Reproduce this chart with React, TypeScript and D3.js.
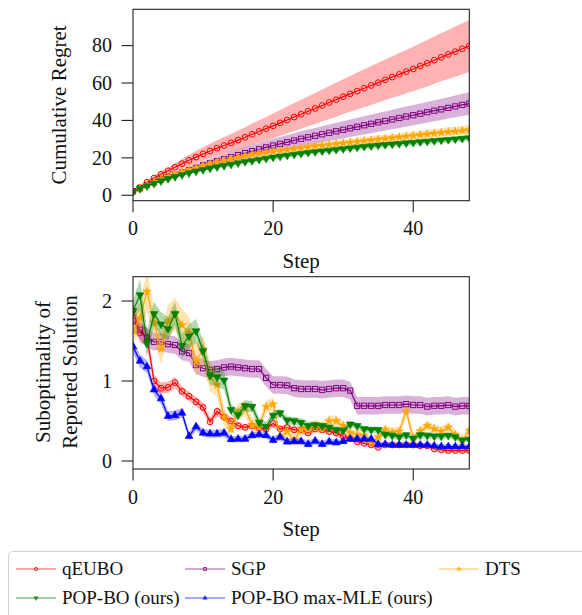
import React from "react";
import * as d3 from "d3";

// ---------- DATA ----------
const steps = d3.range(0, 49);

// Cumulative regret (top panel)
const regretQEUBO = [2.0,4.2,7.0,9.2,11.2,13.1,15.0,16.9,18.7,20.4,22.1,23.7,25.2,26.6,28.0,29.5,31.0,32.6,34.1,35.6,37.1,38.7,40.2,41.8,43.3,44.9,46.4,48.0,49.6,51.1,52.7,54.2,55.7,57.2,58.7,60.2,61.7,63.2,64.6,66.1,67.5,69.1,70.6,72.2,73.8,75.3,76.8,78.3,79.8];
const regretQEUBOStd = [0.3,0.6,0.9,1.2,1.5,1.8,2.1,2.5,2.9,3.3,3.6,3.9,4.2,4.5,4.8,5.1,5.4,5.7,6.0,6.3,6.6,6.9,7.2,7.5,7.8,8.0,8.3,8.6,8.8,9.1,9.3,9.6,9.9,10.1,10.4,10.6,10.9,11.1,11.4,11.6,11.9,12.1,12.4,12.6,12.9,13.1,13.4,13.6,13.9];
const regretSGP = [2.2,3.8,5.5,6.9,8.3,9.7,11.0,12.2,13.5,14.7,16.0,17.1,18.2,19.3,20.4,21.5,22.6,23.6,24.6,25.6,26.6,27.5,28.4,29.3,30.2,31.0,31.8,32.6,33.4,34.2,35.0,35.8,36.6,37.4,38.2,39.0,39.7,40.5,41.3,42.1,42.8,43.6,44.4,45.2,45.9,46.7,47.5,48.3,49.0];
const regretSGPStd = [0.2,0.4,0.6,0.8,1.0,1.2,1.4,1.6,1.8,2.0,2.2,2.4,2.6,2.8,3.0,3.1,3.2,3.3,3.4,3.5,3.6,3.7,3.8,3.9,4.0,4.1,4.2,4.3,4.4,4.5,4.6,4.7,4.8,4.9,5.0,5.0,5.1,5.2,5.3,5.3,5.4,5.5,5.5,5.6,5.7,5.7,5.8,5.9,6.0];
const regretDTS = [2.0,3.8,5.6,7.2,8.7,10.1,11.4,12.6,13.7,14.7,15.7,16.7,17.6,18.5,19.4,20.2,21.0,21.7,22.3,22.8,23.3,23.8,24.3,24.8,25.3,25.8,26.3,26.7,27.1,27.5,27.9,28.3,28.7,29.1,29.5,29.9,30.3,30.7,31.1,31.5,31.9,32.3,32.7,33.1,33.5,33.9,34.2,34.6,34.9];
const regretDTSStd = [0.2,0.3,0.4,0.5,0.6,0.7,0.8,0.9,1.0,1.0,1.1,1.1,1.2,1.2,1.3,1.3,1.4,1.4,1.5,1.5,1.5,1.6,1.6,1.6,1.7,1.7,1.7,1.8,1.8,1.8,1.9,1.9,1.9,2.0,2.0,2.0,2.1,2.1,2.1,2.2,2.2,2.2,2.3,2.3,2.3,2.4,2.4,2.4,2.5];
const regretPOP = [1.9,3.5,4.9,6.3,7.6,8.8,9.9,10.9,11.9,12.8,13.6,14.4,15.1,15.8,16.5,17.2,17.9,18.5,19.1,19.7,20.3,20.8,21.3,21.8,22.3,22.8,23.2,23.6,24.0,24.4,24.8,25.2,25.6,26.0,26.3,26.7,27.0,27.3,27.6,27.9,28.2,28.5,28.8,29.1,29.4,29.7,30.0,30.3,30.6];
const regretPOPStd = [0.2,0.3,0.4,0.5,0.5,0.6,0.6,0.7,0.7,0.8,0.8,0.8,0.9,0.9,0.9,1.0,1.0,1.0,1.0,1.1,1.1,1.1,1.1,1.2,1.2,1.2,1.2,1.2,1.3,1.3,1.3,1.3,1.3,1.4,1.4,1.4,1.4,1.4,1.4,1.5,1.5,1.5,1.5,1.5,1.5,1.6,1.6,1.6,1.6];

// Suboptimality of reported solution (bottom panel)
const subQEUBO = [1.88,1.60,1.55,1.00,0.91,0.92,0.98,0.87,0.81,0.74,0.67,0.49,0.62,0.55,0.50,0.44,0.42,0.44,0.41,0.40,0.47,0.40,0.42,0.39,0.39,0.35,0.40,0.39,0.37,0.35,0.31,0.28,0.24,0.22,0.20,0.17,0.20,0.20,0.20,0.20,0.20,0.19,0.19,0.15,0.14,0.13,0.13,0.13,0.13];
const subQEUBOStd = [0.10,0.12,0.12,0.08,0.07,0.07,0.07,0.06,0.06,0.06,0.06,0.05,0.06,0.05,0.05,0.05,0.04,0.04,0.04,0.04,0.05,0.04,0.04,0.04,0.04,0.04,0.04,0.04,0.04,0.04,0.04,0.03,0.03,0.03,0.03,0.03,0.03,0.03,0.03,0.03,0.03,0.03,0.03,0.03,0.03,0.03,0.03,0.03,0.03];
const subSGP = [1.75,1.64,1.54,1.49,1.49,1.46,1.45,1.37,1.35,1.20,1.16,1.14,1.15,1.17,1.18,1.17,1.16,1.15,1.15,1.04,0.95,0.95,0.945,0.91,0.90,0.90,0.90,0.89,0.90,0.91,0.91,0.88,0.69,0.69,0.69,0.69,0.70,0.70,0.70,0.71,0.70,0.70,0.68,0.69,0.69,0.70,0.68,0.69,0.69];
const subSGPStd = [0.12,0.12,0.12,0.11,0.11,0.11,0.11,0.11,0.11,0.11,0.11,0.11,0.11,0.11,0.11,0.11,0.11,0.11,0.11,0.11,0.11,0.11,0.11,0.11,0.11,0.11,0.11,0.11,0.11,0.11,0.11,0.11,0.11,0.11,0.11,0.11,0.11,0.11,0.11,0.11,0.11,0.11,0.11,0.11,0.11,0.11,0.11,0.11,0.11];
const subDTS = [1.625,1.79,2.12,1.73,1.40,1.75,1.84,1.70,1.60,1.25,1.40,1.05,0.95,0.55,0.40,0.62,0.66,0.45,0.43,0.68,0.71,0.30,0.37,0.26,0.39,0.41,0.44,0.42,0.50,0.50,0.44,0.35,0.33,0.32,0.23,0.30,0.39,0.36,0.37,0.62,0.29,0.375,0.44,0.40,0.37,0.42,0.33,0.26,0.38];
const subDTSStd = [0.15,0.20,0.25,0.20,0.20,0.20,0.20,0.20,0.20,0.20,0.18,0.18,0.15,0.12,0.10,0.10,0.10,0.10,0.08,0.08,0.08,0.07,0.07,0.07,0.07,0.07,0.07,0.07,0.07,0.07,0.07,0.06,0.06,0.06,0.06,0.06,0.06,0.06,0.06,0.08,0.06,0.06,0.06,0.06,0.06,0.06,0.06,0.06,0.06];
const subPOP = [1.88,2.075,1.47,1.84,1.71,1.65,1.84,1.44,1.56,1.625,1.375,1.07,1.05,1.01,0.64,0.575,0.69,0.68,0.48,0.43,0.57,0.60,0.51,0.50,0.48,0.44,0.45,0.44,0.42,0.39,0.38,0.46,0.44,0.40,0.39,0.39,0.33,0.32,0.30,0.325,0.28,0.325,0.32,0.31,0.31,0.32,0.30,0.26,0.27];
const subPOPStd = [0.12,0.20,0.17,0.15,0.15,0.15,0.15,0.15,0.15,0.15,0.12,0.12,0.12,0.12,0.07,0.07,0.07,0.07,0.06,0.06,0.06,0.05,0.05,0.05,0.05,0.05,0.04,0.04,0.04,0.04,0.04,0.04,0.04,0.04,0.04,0.04,0.04,0.04,0.04,0.04,0.04,0.04,0.04,0.04,0.04,0.03,0.03,0.03,0.03];
const subMLE = [1.43,1.25,1.18,0.89,0.78,0.56,0.57,0.60,0.31,0.43,0.35,0.34,0.34,0.35,0.27,0.275,0.275,0.32,0.33,0.32,0.26,0.30,0.24,0.245,0.245,0.21,0.25,0.21,0.24,0.23,0.245,0.275,0.275,0.275,0.275,0.21,0.21,0.20,0.20,0.20,0.20,0.20,0.20,0.19,0.18,0.18,0.18,0.18,0.18];
const subMLEStd = [0.08,0.08,0.08,0.07,0.07,0.06,0.06,0.06,0.05,0.05,0.05,0.05,0.05,0.05,0.04,0.04,0.04,0.04,0.04,0.04,0.04,0.04,0.04,0.04,0.04,0.04,0.04,0.04,0.04,0.04,0.03,0.03,0.03,0.03,0.03,0.03,0.03,0.03,0.03,0.03,0.03,0.03,0.03,0.03,0.03,0.03,0.03,0.03,0.03];

const xTicks = [0, 20, 40];
const topYTicks = [0, 20, 40, 60, 80];
const botYTicks = [0, 1, 2];
const seriesNames = ["qEUBO", "SGP", "DTS", "POP-BO (ours)", "POP-BO max-MLE (ours)"];

// ---------- STYLE ----------
const W = 582, H = 615;
const X0 = 133, X1 = 469.3;
const FONT = "'Liberation Serif', 'Times New Roman', serif";
const TICK_FS = 20;
const LABEL_FS = 21;

type Marker = "circle" | "square" | "star" | "tridown" | "triup";
interface Series { name: string; color: string; marker: Marker; mean: number[]; std: number[]; }

const styleMap: Record<string, { color: string; marker: Marker }> = {
  "qEUBO": { color: "red", marker: "circle" },
  "SGP": { color: "purple", marker: "square" },
  "DTS": { color: "orange", marker: "star" },
  "POP-BO (ours)": { color: "green", marker: "tridown" },
  "POP-BO max-MLE (ours)": { color: "blue", marker: "triup" },
};

const topSeries: Series[] = [
  { name: seriesNames[0], ...styleMap[seriesNames[0]], mean: regretQEUBO, std: regretQEUBOStd },
  { name: seriesNames[1], ...styleMap[seriesNames[1]], mean: regretSGP, std: regretSGPStd },
  { name: seriesNames[2], ...styleMap[seriesNames[2]], mean: regretDTS, std: regretDTSStd },
  { name: seriesNames[3], ...styleMap[seriesNames[3]], mean: regretPOP, std: regretPOPStd },
];
const botSeries: Series[] = [
  { name: seriesNames[0], ...styleMap[seriesNames[0]], mean: subQEUBO, std: subQEUBOStd },
  { name: seriesNames[1], ...styleMap[seriesNames[1]], mean: subSGP, std: subSGPStd },
  { name: seriesNames[2], ...styleMap[seriesNames[2]], mean: subDTS, std: subDTSStd },
  { name: seriesNames[3], ...styleMap[seriesNames[3]], mean: subPOP, std: subPOPStd },
  { name: seriesNames[4], ...styleMap[seriesNames[4]], mean: subMLE, std: subMLEStd },
];

function MarkerShape({ type, color, x, y, scale = 1 }: { type: Marker; color: string; x: number; y: number; scale?: number }) {
  const s = scale;
  if (type === "circle") {
    return <circle cx={x} cy={y} r={2.9 * s} fill="none" stroke={color} strokeWidth={1} />;
  }
  if (type === "square") {
    const a = 5.2 * s;
    return <rect x={x - a / 2} y={y - a / 2} width={a} height={a} fill="none" stroke={color} strokeWidth={1} />;
  }
  if (type === "star") {
    const p = d3.symbol().type(d3.symbolStar).size(22 * s * s)();
    return <path d={p || ""} transform={`translate(${x},${y})`} fill={color} stroke={color} strokeWidth={0.5} />;
  }
  const p = d3.symbol().type(d3.symbolTriangle).size(26 * s * s)();
  const rot = type === "tridown" ? 180 : 0;
  return <path d={p || ""} transform={`translate(${x},${y}) rotate(${rot})`} fill={color} stroke={color} strokeWidth={0.6} />;
}

function Panel({ id, series, yDomain, yTop, yBot, yTicks }: { id: string; series: Series[]; yDomain: [number, number]; yTop: number; yBot: number; yTicks: number[] }) {
  const x = d3.scaleLinear().domain([0, 48]).range([X0, X1]);
  const y = d3.scaleLinear().domain(yDomain).range([yBot, yTop]);
  const line = d3.line<number>().x((_, i) => x(steps[i])).y((d) => y(d));
  return (
    <g>
      <defs>
        <clipPath id={id}>
          <rect x={X0} y={yTop} width={X1 - X0} height={yBot - yTop} />
        </clipPath>
      </defs>
      <g clipPath={`url(#${id})`}>
        {series.map((s) => {
          const area = d3.area<number>()
            .x((_, i) => x(steps[i]))
            .y0((d, i) => y(d - s.std[i]))
            .y1((d, i) => y(d + s.std[i]));
          return (
            <g key={s.name}>
              <path d={area(s.mean) || ""} fill={s.color} fillOpacity={0.3} stroke="none" />
              <path d={line(s.mean) || ""} fill="none" stroke={s.color} strokeWidth={1.2} />
              {s.mean.map((v, i) => (
                <MarkerShape key={i} type={s.marker} color={s.color} x={x(steps[i])} y={y(v)} />
              ))}
            </g>
          );
        })}
      </g>
      <rect x={X0} y={yTop} width={X1 - X0} height={yBot - yTop} fill="none" stroke="#222" strokeWidth={1.1} />
      {yTicks.map((t) => (
        <g key={t}>
          <line x1={X0 - 11.5} x2={X0} y1={y(t)} y2={y(t)} stroke="#222" strokeWidth={1.1} />
          <text x={X0 - 21} y={y(t)} dy="0.34em" textAnchor="end" fontFamily={FONT} fontSize={TICK_FS} fill="#111">{t}</text>
        </g>
      ))}
      {xTicks.map((t) => (
        <g key={t}>
          <line x1={x(t)} x2={x(t)} y1={yBot} y2={yBot + 11.5} stroke="#222" strokeWidth={1.1} />
          <text x={x(t)} y={yBot + 34.5} textAnchor="middle" fontFamily={FONT} fontSize={TICK_FS} fill="#111">{t}</text>
        </g>
      ))}
      <text x={(X0 + X1) / 2} y={yBot + 67} textAnchor="middle" fontFamily={FONT} fontSize={LABEL_FS} fill="#111">Step</text>
    </g>
  );
}

function Legend() {
  const rows = [569, 598];
  const cols = [16, 185, 439];
  const pos = [
    [cols[0], rows[0]], [cols[1], rows[0]], [cols[2], rows[0]],
    [cols[0], rows[1]], [cols[1], rows[1]],
  ];
  return (
    <g>
      <rect x={8.5} y={551.5} width={590} height={80} rx={4} fill="white" fillOpacity={0.8} stroke="#d0d0d0" strokeWidth={1} />
      {seriesNames.map((n, k) => {
        const [lx, ly] = pos[k];
        const st = styleMap[n];
        return (
          <g key={n}>
            <line x1={lx} x2={lx + 40} y1={ly} y2={ly} stroke={st.color} strokeWidth={1.2} strokeOpacity={0.7} />
            <g opacity={0.8}><MarkerShape type={st.marker} color={st.color} x={lx + 20} y={ly} scale={0.55} /></g>
            <text x={lx + 46} y={ly} dy="0.33em" fontFamily={FONT} fontSize={19} fill="#111">{n}</text>
          </g>
        );
      })}
    </g>
  );
}

export default function App() {
  return (
    <svg width={W} height={H} style={{ position: "absolute", left: 0, top: 0, background: "white" }}>
      <Panel id="clipTop" series={topSeries} yDomain={[-2.9, 99.4]} yTop={9.3} yBot={200.7} yTicks={topYTicks} />
      <Panel id="clipBot" series={botSeries} yDomain={[-0.1, 2.304]} yTop={276.7} yBot={469} yTicks={botYTicks} />
      <text transform="translate(66,105) rotate(-90)" textAnchor="middle" fontFamily={FONT} fontSize={LABEL_FS} fill="#111">Cumulative Regret</text>
      <text transform="translate(50,372) rotate(-90)" textAnchor="middle" fontFamily={FONT} fontSize={LABEL_FS} fill="#111">Suboptimality of</text>
      <text transform="translate(77,372) rotate(-90)" textAnchor="middle" fontFamily={FONT} fontSize={LABEL_FS} fill="#111">Reported Solution</text>
      <Legend />
    </svg>
  );
}
